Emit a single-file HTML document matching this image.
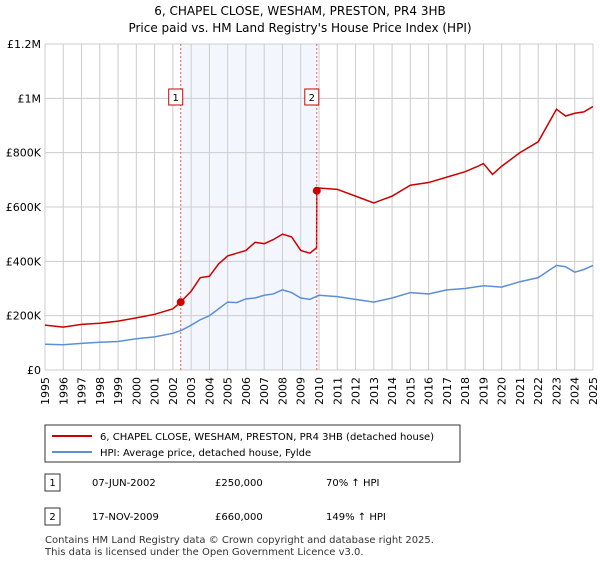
<!DOCTYPE html>
<html><head><meta charset="utf-8"><style>
body{margin:0;background:#fff;font-family:"Liberation Sans","DejaVu Sans",sans-serif;}
svg text{font-family:"DejaVu Sans","Liberation Sans",sans-serif;}
</style></head><body>
<svg id="chart" width="600" height="560" xmlns="http://www.w3.org/2000/svg">
<text x="300" y="15" text-anchor="middle" font-size="12">6, CHAPEL CLOSE, WESHAM, PRESTON, PR4 3HB</text>
<text x="300" y="32" text-anchor="middle" font-size="12">Price paid vs. HM Land Registry's House Price Index (HPI)</text>
<g id="grid"></g><g id="series"></g><g id="axes"></g>
<rect x="45" y="425" width="415" height="37" fill="#fff" stroke="#333"/>
<line x1="52" y1="436" x2="92" y2="436" stroke="#cc0000" stroke-width="2"/>
<text x="100" y="440" font-size="10">6, CHAPEL CLOSE, WESHAM, PRESTON, PR4 3HB (detached house)</text>
<line x1="52" y1="452" x2="92" y2="452" stroke="#5b8fd6" stroke-width="2"/>
<text x="100" y="456" font-size="10">HPI: Average price, detached house, Fylde</text>
<g>
<rect x="45" y="474" width="15" height="17" fill="#fff" stroke="#333"/><text x="52.5" y="486" font-size="10" text-anchor="middle">1</text>
<text x="92" y="486" font-size="10">07-JUN-2002</text><text x="215" y="486" font-size="10">£250,000</text><text x="326" y="486" font-size="10">70% ↑ HPI</text></g>
<g>
<rect x="45" y="508" width="15" height="17" fill="#fff" stroke="#333"/><text x="52.5" y="520" font-size="10" text-anchor="middle">2</text>
<text x="92" y="520" font-size="10">17-NOV-2009</text><text x="215" y="520" font-size="10">£660,000</text><text x="326" y="520" font-size="10">149% ↑ HPI</text></g>
<text x="45" y="543" font-size="10" fill="#333">Contains HM Land Registry data © Crown copyright and database right 2025.</text>
<text x="45" y="555" font-size="10" fill="#333">This data is licensed under the Open Government Licence v3.0.</text>
</svg>
<script>
const hpiYears=[1995,1996,1997,1998,1999,2000,2001,2002,2002.5,2003,2003.5,2004,2004.5,2005,2005.5,2006,2006.5,2007,2007.5,2008,2008.5,2009,2009.5,2010,2011,2012,2013,2014,2015,2016,2017,2018,2019,2020,2021,2022,2023,2023.5,2024,2024.5,2025];
const hpiValues=[95,93,98,102,105,115,122,135,147,165,185,200,225,250,248,262,265,275,280,295,285,265,260,275,270,260,250,265,285,280,295,300,310,305,325,340,385,380,360,370,385];
const redYears=[1995,1996,1997,1998,1999,2000,2001,2002,2002.43,2003,2003.5,2004,2004.5,2005,2005.5,2006,2006.5,2007,2007.5,2008,2008.5,2009,2009.5,2009.87,2009.88,2010,2011,2012,2013,2014,2015,2016,2017,2018,2018.7,2019,2019.5,2020,2021,2022,2022.5,2023,2023.5,2024,2024.5,2025];
const redValues=[165,158,168,172,180,192,205,225,250,290,340,345,390,420,430,440,470,465,480,500,490,440,430,450,660,670,665,640,615,640,680,690,710,730,750,760,720,750,800,840,900,960,935,945,950,970];
const saleYears=[2002.43,2009.88];
const saleValues=[250,660];
const saleLabels=["1","2"];
const yTicks=[0,200,400,600,800,1000,1200];
const yTickLabels=["£0","£200K","£400K","£600K","£800K","£1M","£1.2M"];
const NS="http://www.w3.org/2000/svg";
const X=y=>45+(y-1995)*(548/30), Y=v=>370-v*(326/1200);
function mk(t,a,p){const e=document.createElementNS(NS,t);for(const k in a)e.setAttribute(k,a[k]);p.appendChild(e);return e;}
const g=document.getElementById('grid'),s=document.getElementById('series'),ax=document.getElementById('axes');
const sh=mk('rect',{x:X(saleYears[0]),y:44,width:X(saleYears[1])-X(saleYears[0]),height:326,fill:'#eef3fc',opacity:0.7},g);


for(let yr=1995;yr<=2025;yr++){const l=mk('line',{x1:X(yr),x2:X(yr),y1:44,y2:370,stroke:'#ccc'},g);


const t=mk('text',{x:0,y:0,'font-size':11,'text-anchor':'end',transform:`translate(${X(yr)+4},377) rotate(-90)`},ax);t.textContent=yr;

}
yTicks.forEach((v,i)=>{const l=mk('line',{x1:45,x2:593,y1:Y(v),y2:Y(v),stroke:'#ccc'},g);


const t=mk('text',{x:41,y:Y(v)+4,'font-size':11,'text-anchor':'end'},ax);t.textContent=yTickLabels[i];

});
function line(xs,vs,c,n){const p=mk('polyline',{points:xs.map((x,i)=>X(x)+','+Y(vs[i])).join(' '),fill:'none',stroke:c,'stroke-width':1.5},s);

}
line(hpiYears,hpiValues,'#5b8fd6','hpi-line');
line(redYears,redValues,'#cc0000','property-line');
saleYears.forEach((yr,i)=>{const l=mk('line',{x1:X(yr),x2:X(yr),y1:44,y2:370,stroke:'#e06060','stroke-dasharray':'2,2'},s);


const c=mk('circle',{cx:X(yr),cy:Y(saleValues[i]),r:4,fill:'#cc0000'},s);


const b=mk('rect',{x:X(yr)-12,y:89,width:14,height:16,fill:'#fff',stroke:'#cc0000'},s);


const t=mk('text',{x:X(yr)-5,y:101,'font-size':10,'text-anchor':'middle'},s);t.textContent=saleLabels[i];

});
</script>
</body></html>
